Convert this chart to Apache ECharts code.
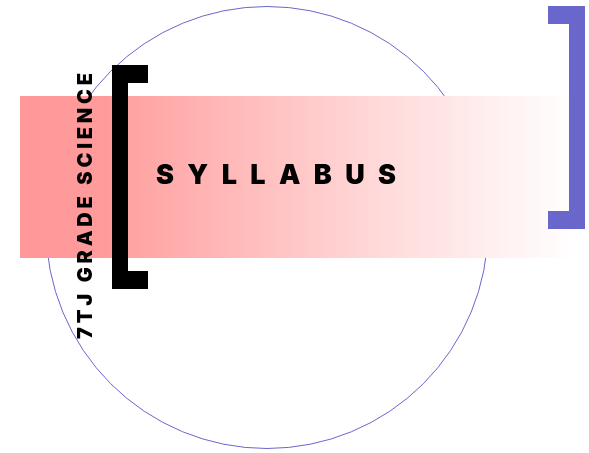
<!DOCTYPE html>
<html>
<head>
<meta charset="utf-8">
<script src="https://cdn.jsdelivr.net/npm/echarts@6/dist/echarts.min.js"></script>
<style>
html,body{margin:0;padding:0;background:#fff;}
#chart{width:589px;height:453px;}
</style>
</head>
<body>
<div id="chart"></div>
<script>
// Text content
const titleText = ['S','Y','L','L','A','B','U','S'];
const sideText = ['7','T','J',' ','G','R','A','D','E',' ','S','C','I','E','N','C','E'];

const chart = echarts.init(document.getElementById('chart'), null, {renderer: 'canvas'});

const measureCtx = document.createElement('canvas').getContext('2d');
function spacedLetters(chars, font, span) {
  measureCtx.font = font;
  const widths = chars.map(c => measureCtx.measureText(c).width);
  const sum = widths.reduce((a, b) => a + b, 0);
  const gap = (span - sum) / (chars.length - 1);
  const offsets = [];
  let pos = 0;
  widths.forEach((w, i) => { offsets.push(pos); pos += w + gap; });
  return offsets;
}

const titleFont = '900 27px Inter, "Liberation Sans", Arial, sans-serif';
const sideFont = '900 20px Inter, "Liberation Sans", Arial, sans-serif';

const titleOffsets = spacedLetters(titleText, titleFont, 240);
const sideOffsets = spacedLetters(sideText, sideFont, 266);

const elements = [];

// circle outline
elements.push({
  type: 'circle', z: 1,
  shape: {cx: 267, cy: 227.5, r: 221},
  style: {fill: null, stroke: '#6a67cc', lineWidth: 1}
});

// pink gradient band
elements.push({
  type: 'rect', z: 2,
  shape: {x: 20, y: 96, width: 550, height: 162},
  style: {
    fill: new echarts.graphic.LinearGradient(0, 0, 1, 0, [
      {offset: 0, color: '#ff9999'},
      {offset: 0.16, color: '#ff9b9b'},
      {offset: 0.2, color: '#ffa3a3'},
      {offset: 0.65, color: '#ffd9d9'},
      {offset: 1, color: '#fffefe'}
    ])
  }
});

// black bracket
[[112, 65, 16, 224], [112, 65, 36, 18], [112, 271, 36, 18]].forEach(r => {
  elements.push({type: 'rect', z: 3, shape: {x: r[0], y: r[1], width: r[2], height: r[3]}, style: {fill: '#000000'}});
});

// purple bracket
[[569, 6, 16, 223], [548, 6, 37, 18], [548, 211, 37, 18]].forEach(r => {
  elements.push({type: 'rect', z: 3, shape: {x: r[0], y: r[1], width: r[2], height: r[3]}, style: {fill: '#6a67cc'}});
});

// title letters
titleText.forEach((c, i) => {
  elements.push({
    type: 'text', z: 4,
    x: 156 + titleOffsets[i], y: 176,
    style: {text: c, font: titleFont, fill: '#000000', align: 'left', verticalAlign: 'middle'}
  });
});

// vertical side letters (reading bottom to top)
sideText.forEach((c, i) => {
  if (c === ' ') return;
  elements.push({
    type: 'text', z: 4,
    x: 86, y: 339 - sideOffsets[i],
    rotation: Math.PI / 2,
    style: {text: c, font: sideFont, fill: '#000000', align: 'left', verticalAlign: 'middle'}
  });
});

chart.setOption({
  backgroundColor: '#ffffff',
  animation: false,
  graphic: {elements: elements}
});
</script>
</body>
</html>
